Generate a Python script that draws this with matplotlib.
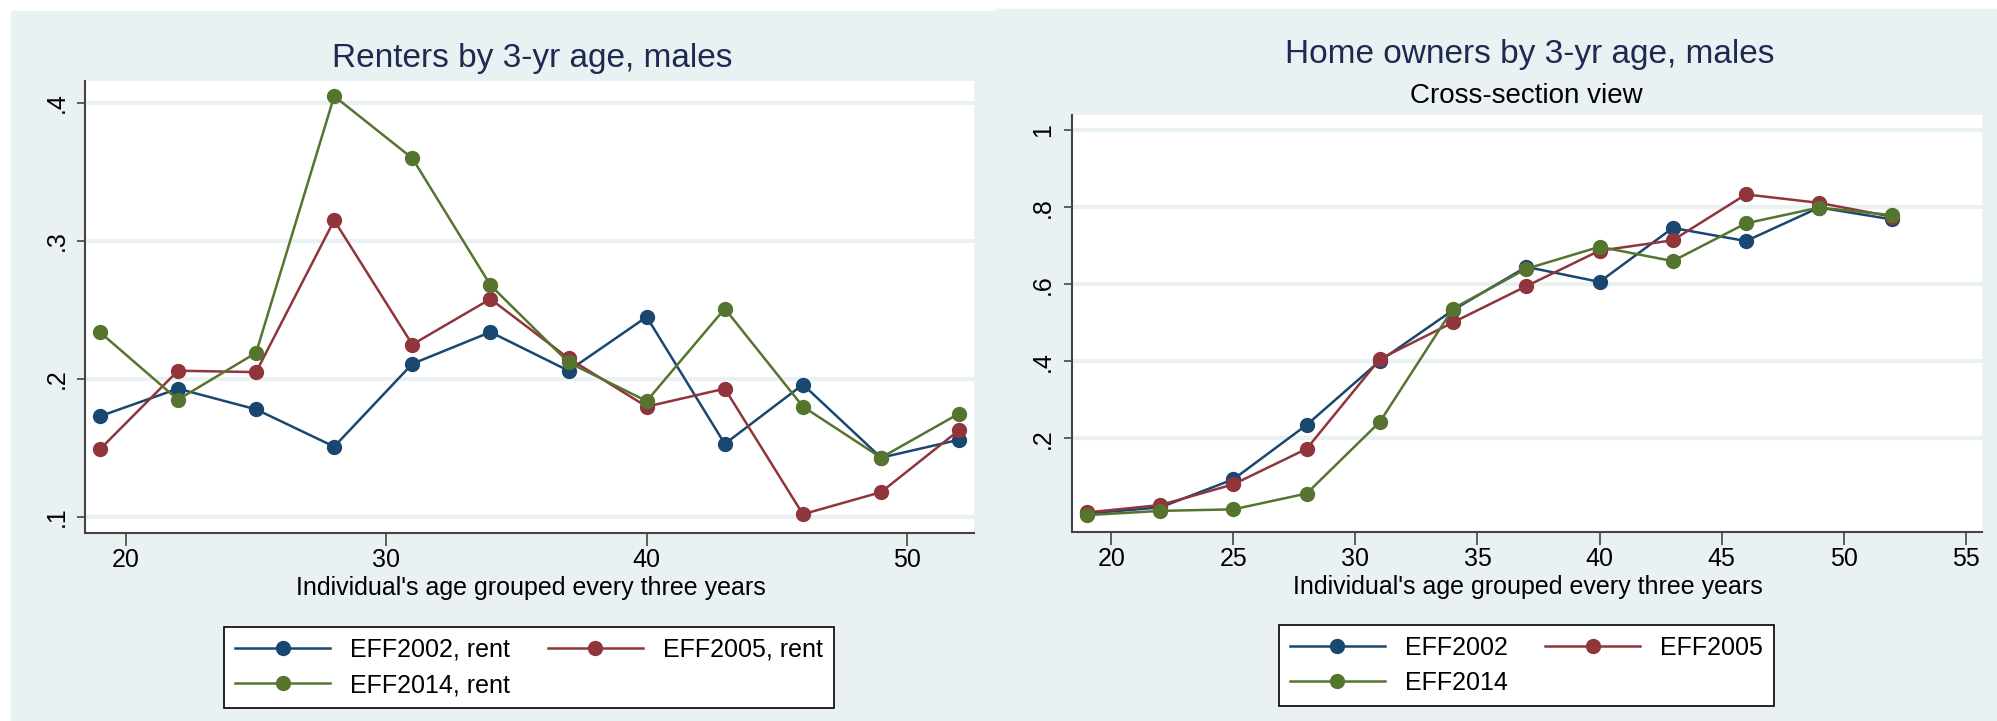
import matplotlib
matplotlib.use('Agg')
from matplotlib import pyplot as plt
from matplotlib.patches import Rectangle
from matplotlib.ticker import FuncFormatter

plt.rcParams['font.family'] = ['Liberation Sans', 'DejaVu Sans']

# %% data
ages = [19, 22, 25, 28, 31, 34, 37, 40, 43, 46, 49, 52]

rent_2002 = [0.173, 0.193, 0.178, 0.151, 0.211, 0.234, 0.206, 0.245, 0.153, 0.196, 0.143, 0.156]
rent_2005 = [0.149, 0.206, 0.205, 0.315, 0.225, 0.258, 0.215, 0.180, 0.193, 0.102, 0.118, 0.163]
rent_2014 = [0.234, 0.185, 0.219, 0.405, 0.360, 0.268, 0.212, 0.184, 0.251, 0.180, 0.143, 0.175]

own_2002 = [0.005, 0.021, 0.094, 0.235, 0.401, 0.533, 0.645, 0.606, 0.746, 0.712, 0.799, 0.768]
own_2005 = [0.008, 0.027, 0.081, 0.173, 0.406, 0.501, 0.595, 0.687, 0.714, 0.833, 0.811, 0.775]
own_2014 = [0.001, 0.012, 0.016, 0.057, 0.243, 0.537, 0.640, 0.697, 0.660, 0.758, 0.799, 0.779]

rent_labels = ['EFF2002, rent', 'EFF2005, rent', 'EFF2014, rent']
own_labels = ['EFF2002', 'EFF2005', 'EFF2014']

colors = ['#1A476F', '#90353B', '#55752F']
bg = '#E9F1F3'
title_col = '#1E2A50'

W, H = 1997, 721
fig = plt.figure(figsize=(W / 100, H / 100), dpi=100, facecolor='white')

# panel backgrounds
fig.patches.append(Rectangle((11 / W, 0), (996 - 11) / W, (H - 11) / H,
                             transform=fig.transFigure, color=bg, zorder=-10))
fig.patches.append(Rectangle((996 / W, 0), (W - 996) / W, (H - 9) / H,
                             transform=fig.transFigure, color=bg, zorder=-10))


def fmt(v, pos):
    s = ('%.1f' % v)
    if s.startswith('0'):
        s = s[1:]
    if s.endswith('.0'):
        s = s[:-2]
    return s


def style(ax):
    ax.set_facecolor('white')
    for side in ['top', 'right']:
        ax.spines[side].set_visible(False)
    for side in ['left', 'bottom']:
        ax.spines[side].set_color('#444444')
        ax.spines[side].set_linewidth(1.5)
    ax.yaxis.grid(True, color=bg, lw=3)
    ax.set_axisbelow(True)
    ax.tick_params(axis='x', length=9, width=1.2, color='#444444', labelsize=18, pad=2)
    ax.tick_params(axis='y', length=6, width=1.2, color='#444444', labelsize=18, pad=6)
    ax.yaxis.set_major_formatter(FuncFormatter(fmt))
    for lab in ax.get_yticklabels():
        lab.set_rotation(90)
        lab.set_va('center')


def plot_series(ax, series, labels):
    for ys, c, lab in zip(series, colors, labels):
        ax.plot(ages, ys, color=c, lw=1.8, marker='o', markersize=10,
                markeredgecolor=c, markerfacecolor=c, label=lab, zorder=3)


def add_legend(ax, cx, top):
    h, l = ax.get_legend_handles_labels()
    order = [0, 2, 1]  # fill row by row
    leg = ax.legend([h[i] for i in order], [l[i] for i in order],
                    loc='upper center', bbox_to_anchor=(cx / W, 1 - top / H),
                    bbox_transform=fig.transFigure, ncol=2, fontsize=18,
                    frameon=True, fancybox=False, edgecolor='black',
                    facecolor='white', framealpha=1, handlelength=3.8,
                    columnspacing=1.5, borderpad=0.45, labelspacing=0.45)
    leg.get_frame().set_linewidth(1.2)


# %% left: renters
ax1 = fig.add_axes([85 / W, 1 - 533 / H, (974 - 85) / W, (533 - 80.7) / H])
plot_series(ax1, [rent_2002, rent_2005, rent_2014], rent_labels)
ax1.set_xlim(18.43, 52.57)
ax1.set_ylim(0.0884, 0.4162)
ax1.set_xticks([20, 30, 40, 50])
ax1.set_yticks([0.1, 0.2, 0.3, 0.4])
style(ax1)

fig.text(532 / W, 1 - 58 / H, 'Renters by 3-yr age, males', ha='center', va='center',
         fontsize=24, color=title_col)
fig.text(531 / W, 1 - 588 / H, "Individual's age grouped every three years",
         ha='center', va='center', fontsize=18)
add_legend(ax1, 529, 614)

# %% right: owners
ax2 = fig.add_axes([1071.6 / W, 1 - 531.7 / H, (1982 - 1071.6) / W, (531.7 - 115) / H])
plot_series(ax2, [own_2002, own_2005, own_2014], own_labels)
ax2.set_xlim(18.37, 55.67)
ax2.set_ylim(-0.042, 1.039)
ax2.set_xticks([20, 25, 30, 35, 40, 45, 50, 55])
ax2.set_yticks([0.2, 0.4, 0.6, 0.8, 1.0])
style(ax2)

fig.text(1529.5 / W, 1 - 55 / H, 'Home owners by 3-yr age, males', ha='center', va='center',
         fontsize=24, color=title_col)
fig.text(1526 / W, 1 - 96 / H, 'Cross-section view', ha='center', va='center',
         fontsize=20, color='black')
fig.text(1528 / W, 1 - 587 / H, "Individual's age grouped every three years",
         ha='center', va='center', fontsize=18)
add_legend(ax2, 1526.5, 612)

fig.savefig('out.png', dpi=100, facecolor='white')
